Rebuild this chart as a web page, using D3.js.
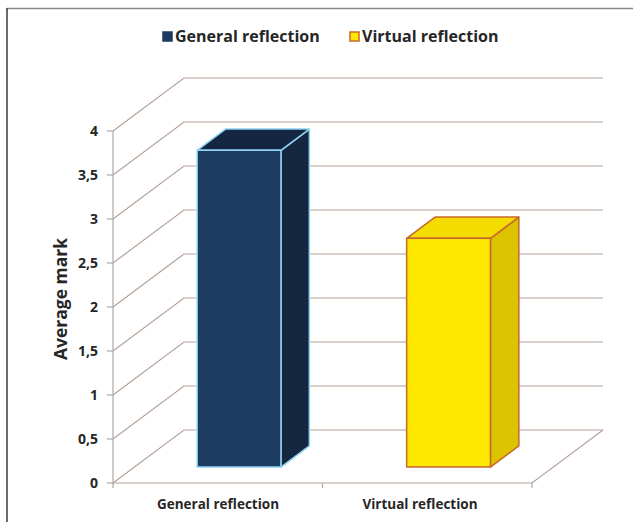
<!DOCTYPE html>
<html>
<head>
<meta charset="utf-8">
<script src="https://cdn.jsdelivr.net/npm/d3@7"></script>
<style>
  html, body { margin: 0; padding: 0; background: #fff; }
  svg { display: block; }
  text { font-family: "Open Sans", Lato, sans-serif; font-weight: bold; fill: #262626; }
</style>
</head>
<body>
<svg id="chart" width="633" height="522"></svg>
<script>
// Average mark per type of reflection
const categories = ["General reflection", "Virtual reflection"];
const values = [3.6, 2.6];
const seriesNames = ["General reflection", "Virtual reflection"];
const yTicks = [0, 0.5, 1, 1.5, 2, 2.5, 3, 3.5, 4];
const yTickLabels = ["0", "0,5", "1", "1,5", "2", "2,5", "3", "3,5", "4"];
const axisTitle = "Average mark";

const svg = d3.select("#chart");
const W = 633, H = 522;

// frame: top and left rules
svg.append("line").attr("x1", 7).attr("x2", W).attr("y1", 8.5).attr("y2", 8.5)
  .attr("stroke", "#8a8a8a").attr("stroke-width", 1.5);
svg.append("line").attr("x1", 7).attr("x2", 7).attr("y1", 8).attr("y2", H)
  .attr("stroke", "#3a3a3a").attr("stroke-width", 1.5);

// 3D projection: front plane scales plus a depth offset
const x = d3.scaleBand().domain(categories).range([113, 532]).padding(0);
const y = d3.scaleLinear().domain([0, 4]).range([483, 131]);
const depth = { dx: 71, dy: -53 };
const proj = (px, py, z) => [px + z * depth.dx, py + z * depth.dy];

const gridColor = "#b5a29a";
const grid = svg.append("g");

// back-wall grid lines with their diagonal on the side wall
yTicks.forEach(t => {
  const p0 = proj(x.range()[0], y(t), 0);
  const p1 = proj(x.range()[0], y(t), 1);
  const p2 = proj(x.range()[1], y(t), 1);
  grid.append("path")
    .attr("d", d3.line()([p0, p1, p2]))
    .attr("fill", "none").attr("stroke", gridColor).attr("stroke-width", 1.2);
});

// floor front edge and right edge
{
  const a = proj(x.range()[0], y(0), 0);
  const b = proj(x.range()[1], y(0), 0);
  const c = proj(x.range()[1], y(0), 1);
  grid.append("path").attr("d", d3.line()([a, b, c]))
    .attr("fill", "none").attr("stroke", gridColor).attr("stroke-width", 1.2);
}

// vertical value axis on the front plane
grid.append("line")
  .attr("x1", x.range()[0]).attr("x2", x.range()[0])
  .attr("y1", y(4)).attr("y2", y(0))
  .attr("stroke", "#a9a9a9").attr("stroke-width", 1.2);

// value ticks and labels
const yAxis = svg.append("g");
yTicks.forEach((t, i) => {
  yAxis.append("line")
    .attr("x1", x.range()[0] - 6).attr("x2", x.range()[0])
    .attr("y1", y(t)).attr("y2", y(t))
    .attr("stroke", "#a9a9a9").attr("stroke-width", 1.2);
  yAxis.append("text")
    .attr("x", 98).attr("y", y(t)).attr("dy", "0.35em")
    .attr("text-anchor", "end").attr("font-size", 14)
    .text(yTickLabels[i]);
});

// category ticks on the floor edge
const catEdges = [x.range()[0], ...categories.map(c => x(c) + x.bandwidth())];
catEdges.forEach(px => {
  svg.append("line").attr("x1", px).attr("x2", px)
    .attr("y1", y(0)).attr("y2", y(0) + 5)
    .attr("stroke", "#a9a9a9").attr("stroke-width", 1.2);
});

// category labels
const labelX = [218, 420];
categories.forEach((c, i) => {
  svg.append("text")
    .attr("x", labelX[i]).attr("y", 509)
    .attr("text-anchor", "middle").attr("font-size", 13.5)
    .text(c);
});

// axis title
svg.append("text")
  .attr("transform", "translate(67,299) rotate(-90)")
  .attr("text-anchor", "middle").attr("font-size", 17.5)
  .text(axisTitle);

// bars as boxes
const styles = [
  { front: "#1d3a60", side: "#15263f", top: "#142642", edge: "#8fd2f2" },
  { front: "#ffe800", side: "#dcc300", top: "#f4dc00", edge: "#c8682a" }
];
const z0 = 0.3, z1 = 0.7;
const barFrac = 0.4;

categories.forEach((c, i) => {
  const v = values[i];
  const st = styles[i];
  const bx0 = x(c) + x.bandwidth() * (1 - barFrac) / 2;
  const bx1 = bx0 + x.bandwidth() * barFrac;
  const yt = y(v), yb = y(0);
  const g = svg.append("g");

  const ftl = proj(bx0, yt, z0), ftr = proj(bx1, yt, z0);
  const fbl = proj(bx0, yb, z0), fbr = proj(bx1, yb, z0);
  const btl = proj(bx0, yt, z1), btr = proj(bx1, yt, z1);
  const bbr = proj(bx1, yb, z1);

  const poly = pts => d3.line()(pts) + "Z";
  g.append("path").attr("d", poly([ftr, btr, bbr, fbr]))
    .attr("fill", st.side).attr("stroke", st.edge).attr("stroke-width", 1.5)
    .attr("stroke-linejoin", "round");
  g.append("path").attr("d", poly([ftl, btl, btr, ftr]))
    .attr("fill", st.top).attr("stroke", st.edge).attr("stroke-width", 1.5)
    .attr("stroke-linejoin", "round");
  g.append("path").attr("d", poly([ftl, ftr, fbr, fbl]))
    .attr("fill", st.front).attr("stroke", st.edge).attr("stroke-width", 1.5)
    .attr("stroke-linejoin", "round");
});

// legend
const legend = svg.append("g");
const legendItems = [
  { x: 163, fill: styles[0].front, stroke: styles[0].front },
  { x: 350, fill: styles[1].front, stroke: styles[1].edge }
];
legendItems.forEach((it, i) => {
  legend.append("rect")
    .attr("x", it.x).attr("y", 32).attr("width", 9).attr("height", 9)
    .attr("fill", it.fill).attr("stroke", it.stroke).attr("stroke-width", 1.5);
  legend.append("text")
    .attr("x", it.x + 12).attr("y", 41.5)
    .attr("font-size", 16)
    .text(seriesNames[i]);
});
</script>
</body>
</html>
